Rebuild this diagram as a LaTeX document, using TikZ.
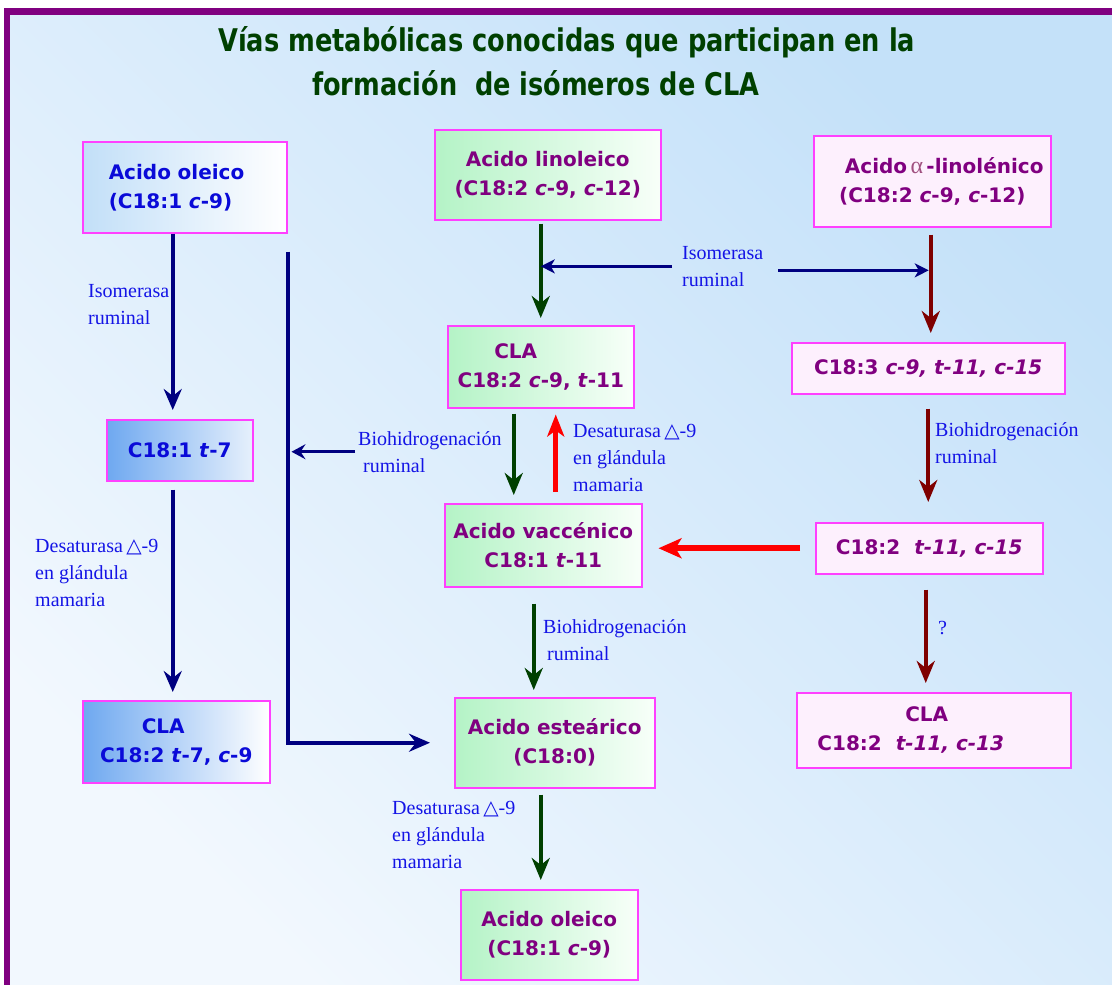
\documentclass[tikz,border=0pt]{standalone}
\usepackage{fontspec}
\usetikzlibrary{arrows.meta,calc}
\newfontfamily\boxfont{DejaVu Sans}
\newfontfamily\labfont{Liberation Serif}
\newfontfamily\titfont{DejaVu Sans Condensed}
\newfontfamily\symfont{DejaVu Sans}
\definecolor{bgL}{HTML}{F2F8FE}
\definecolor{bgR}{HTML}{C4E1F9}
\definecolor{frame}{HTML}{800080}
\definecolor{titgreen}{HTML}{004000}
\definecolor{boxpink}{HTML}{FF40FF}
\definecolor{pinkfill}{HTML}{FDF0FD}
\definecolor{gL}{HTML}{B4F3C6}
\definecolor{gR}{HTML}{F8FFF9}
\definecolor{bL1}{HTML}{C2DFF8}
\definecolor{bL2}{HTML}{6EA8F0}
\definecolor{bR2}{HTML}{E6F0FC}
\definecolor{txtblue}{HTML}{0A0AD8}
\definecolor{txtpurple}{HTML}{800080}
\definecolor{labblue}{HTML}{1414E6}
\definecolor{navy}{HTML}{000080}
\definecolor{dgreen}{HTML}{004000}
\definecolor{dred}{HTML}{7F0000}
\definecolor{alphac}{HTML}{A05080}
\newcommand{\tri}{{\symfont △}}
\begin{document}
\begin{tikzpicture}[x=1pt,y=-1pt,
 box/.style={draw=boxpink, line width=1.5pt, inner sep=0pt, align=center, anchor=north west, font=\boxfont\bfseries\fontsize{20}{29}\selectfont},
 bluebox/.style={box, text=txtblue},
 greenbox/.style={box, text=txtpurple, left color=gL, right color=gR},
 pinkbox/.style={box, text=txtpurple, fill=pinkfill},
 lab/.style={inner sep=0pt, align=left, anchor=north west, text=labblue, font=\labfont\fontsize{20}{27}\selectfont},
 navyarr/.style={draw=navy, line width=4pt, -{Stealth[length=21pt,width=18pt,inset=7pt]}},
 thinnavy/.style={draw=navy, line width=3pt, -{Stealth[length=14pt,width=15pt,inset=5pt]}},
 midnavy/.style={draw=navy, line width=3.5pt, -{Stealth[length=14pt,width=14pt,inset=4pt]}},
 greenarr/.style={draw=dgreen, line width=4pt, -{Stealth[length=22pt,width=18pt,inset=7pt]}},
 dredarr/.style={draw=dred, line width=4pt, -{Stealth[length=22pt,width=18pt,inset=7pt]}},
 redarr/.style={draw=red, line width=5pt, -{Stealth[length=22pt,width=17pt,inset=6pt]}},
 redthick/.style={draw=red, line width=6pt, -{Stealth[length=23pt,width=20pt,inset=6pt]}},
 titstyle/.style={anchor=base west, inner sep=0pt, text=titgreen, font=\titfont\bfseries\fontsize{26}{30}\selectfont}
]
\useasboundingbox (0,0) rectangle (1112,985);
\fill[white] (0,0) rectangle (1112,8);
\shade[top color=bgR, bottom color=bgL, shading angle=-45] (4,8) rectangle (1112,985);
\fill[frame] (4,8) rectangle (1112,15);
\fill[frame] (4,8) rectangle (10,985);

% title
\node[titstyle] (tit1) at (218,52) {\resizebox{697pt}{25pt}{Vías metabólicas conocidas que participan en la}};
\node[titstyle] (tit2) at (312,95) {\resizebox{447pt}{25pt}{formación\ \ de isómeros de CLA}};

% boxes
\node[bluebox, left color=bL1, right color=white, minimum width=204, minimum height=91, text width=152, align=left] (oleA) at (82,141) {Acido oleico\\(C18:1 \textit{c}-9)};
\node[greenbox, minimum width=226, minimum height=90] (lin) at (434,129) {Acido linoleico\\(C18:2 \textit{c}-9, \textit{c}-12)};
\node[pinkbox, minimum width=237, minimum height=91] (alin) at (813,135) {\hspace*{24pt}Acido\,{\labfont\mdseries\fontsize{24}{29}\selectfont\color{alphac}α}\,-linolénico\\(C18:2 \textit{c}-9, \textit{c}-12)};
\node[greenbox, minimum width=186, minimum height=82] (claM) at (447,325) {\hspace*{-50pt}CLA\\C18:2 \textit{c}-9, \textit{t}-11};
\node[pinkbox, minimum width=273, minimum height=51] (c183) at (791,342) {C18:3 \textit{c-9, t-11, c-15}};
\node[bluebox, left color=bL2, right color=bR2, minimum width=146, minimum height=61] (t7) at (106,419) {C18:1 \textit{t}-7};
\node[greenbox, minimum width=197, minimum height=83] (vac) at (444,503) {Acido vaccénico\\C18:1 \textit{t}-11};
\node[pinkbox, minimum width=227, minimum height=51] (c182) at (815,522) {C18:2\ \ \textit{t-11, c-15}};
\node[bluebox, left color=bL2, right color=white, minimum width=187, minimum height=82] (claL) at (82,700) {\hspace*{-26pt}CLA\\C18:2 \textit{t}-7, \textit{c}-9};
\node[greenbox, minimum width=200, minimum height=90] (est) at (454,697) {Acido esteárico\\(C18:0)};
\node[pinkbox, minimum width=274, minimum height=75] (claR) at (796,692) {\hspace*{-14pt}CLA\\\hspace*{-46pt}C18:2\ \ \textit{t-11, c-13}};
\node[greenbox, minimum width=177, minimum height=90] (oleB) at (460,889) {Acido oleico\\(C18:1 \textit{c}-9)};

% labels
\node[lab] (iso1) at (88,284) {Isomerasa\\ruminal};
\node[lab] (iso2) at (682,246) {Isomerasa\\ruminal};
\node[lab] (bio1) at (358,431) {Biohidrogenación\\\hspace*{5pt}ruminal};
\node[lab] (des1) at (573,424) {Desaturasa\,\tri-9\\en glándula\\mamaria};
\node[lab] (des0) at (35,539) {Desaturasa\,\tri-9\\en glándula\\mamaria};
\node[lab] (bio2) at (935,422) {Biohidrogenación\\ruminal};
\node[lab] (bio3) at (543,619) {Biohidrogenación\\\hspace*{4pt}ruminal};
\node[lab] (q) at (938,621) {?};
\node[lab] (des2) at (392,801) {Desaturasa\,\tri-9\\en glándula\\mamaria};

% left column
\coordinate (a1) at ([xshift=-12pt]oleA.south);
\draw[navyarr, shorten >=9pt] (a1) -- (a1 |- t7.north);
\coordinate (a2) at ([xshift=-7pt,yshift=-8pt]t7.south);
\draw[navyarr, shorten >=8pt] (a2) -- (a2 |- claL.north);
\coordinate (L0) at ([yshift=-18pt]oleA.south east);
\draw[navyarr, shorten >=24pt] (L0) |- (est.west);
\draw[thinnavy, shorten <=3pt, shorten >=4pt] (bio1.west) -- (bio1.west -| L0);

% middle column
\coordinate (g1) at ([xshift=-7pt,yshift=-3pt]lin.south);
\draw[greenarr, shorten >=7pt] (g1) -- (g1 |- claM.north);
\draw[midnavy, shorten <=10pt] (iso2.west) -- (iso2.west -| g1);
\coordinate (g2) at ([xshift=-27pt,yshift=-5pt]claM.south);
\draw[greenarr, shorten >=8pt] (g2) -- (g2 |- vac.north);
\coordinate (rr) at ([xshift=12.5pt,yshift=11pt]vac.north);
\draw[redarr, shorten >=6pt] (rr) -- (rr |- claM.south);
\coordinate (g3) at ([xshift=-9.5pt,yshift=-16pt]vac.south);
\draw[greenarr, shorten >=7pt] (g3) -- (g3 |- est.north);
\coordinate (g4) at ([xshift=-14pt,yshift=-6pt]est.south);
\draw[greenarr, shorten >=9pt] (g4) -- (g4 |- oleB.north);

% right column
\coordinate (r1) at ([xshift=-1.5pt,yshift=-7pt]alin.south);
\draw[dredarr, shorten >=9pt] (r1) -- (r1 |- c183.north);
\draw[midnavy, shorten <=15pt, shorten >=2pt] ([yshift=-4pt]iso2.east) -- ([yshift=-4pt]iso2.east -| r1);
\coordinate (r2) at ([yshift=-14pt]c183.south);
\draw[dredarr, shorten >=20pt] (r2) -- (r2 |- c182.north);
\draw[redthick, shorten <=15pt, shorten >=16pt] (c182.west) -- (c182.west -| vac.east);
\coordinate (r3) at ([xshift=-3.5pt,yshift=-15pt]c182.south);
\draw[dredarr, shorten >=9pt] (r3) -- (r3 |- claR.north);
\end{tikzpicture}
\end{document}
